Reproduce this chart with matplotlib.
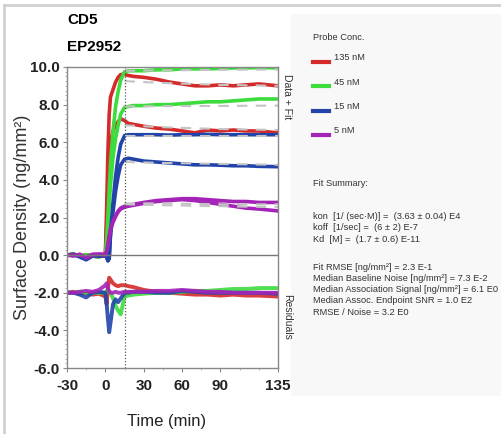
import matplotlib
matplotlib.use("Agg")
import matplotlib.pyplot as plt
from matplotlib.ticker import FixedLocator, MultipleLocator

plt.rcParams["font.family"] = ["Liberation Sans", "DejaVu Sans"]
plt.rcParams["axes.unicode_minus"] = False

# sample times (min)
time = [-30, -25, -20, -15, -10, -5, 0, 1, 2, 3, 4, 6, 8, 10, 12, 15, 18, 22,
        30, 40, 50, 60, 70, 80, 90, 100, 110, 120, 135]
base = [0.0, 0.05, -0.05, 0.0, -0.05, -0.08, 0.0]

red_a = base + [2.5, 5.5, 7.5, 8.4, 8.8, 9.2, 9.45, 9.6, 9.6, 9.55, 9.5,
                9.45, 9.35, 9.2, 9.1, 9.0, 9.0, 9.05, 9.0, 9.05, 9.1, 9.0]
red_b = base + [1.5, 3.5, 5.0, 6.0, 6.6, 6.9, 7.1, 7.25, 7.15, 7.0, 6.95,
                6.85, 6.75, 6.7, 6.6, 6.5, 6.65, 6.6, 6.65, 6.6, 6.6, 6.5]
green_a = base + [0.8, 2.0, 3.5, 4.8, 6.6, 7.9, 8.7, 9.3, 9.75, 9.8, 9.8,
                  9.8, 9.85, 9.85, 9.9, 9.9, 9.9, 9.92, 9.95, 9.95, 9.97, 9.95]
green_b = base + [0.6, 1.6, 2.7, 3.7, 5.2, 6.2, 6.9, 7.5, 7.85, 7.9, 7.95,
                  7.95, 8.0, 8.0, 8.05, 8.1, 8.15, 8.15, 8.2, 8.25, 8.3, 8.3]
blue_a = [0.0, 0.05, -0.1, -0.25, -0.05, -0.05, -0.05, -0.1, -0.3, -0.2, 1.2,
          2.8, 4.2, 5.2, 5.9, 6.35, 6.4, 6.4, 6.4, 6.4, 6.38, 6.4, 6.4, 6.42,
          6.4, 6.4, 6.4, 6.4, 6.4]
blue_b = [0.0, 0.0, -0.05, -0.15, 0.0, -0.05, 0.0, -0.1, -0.3, -0.1, 1.0,
          2.3, 3.4, 4.2, 4.8, 5.1, 5.15, 5.1, 5.0, 4.95, 4.9, 4.85, 4.8, 4.8,
          4.78, 4.75, 4.75, 4.72, 4.7]
purple_a = [0.0, -0.05, 0.05, -0.15, 0.0, 0.05, 0.05, 0.2, 0.6, 1.0, 1.4,
            1.8, 2.1, 2.35, 2.5, 2.6, 2.65, 2.7, 2.8, 2.9, 2.95, 3.0, 3.0,
            2.95, 2.9, 2.85, 2.85, 2.8, 2.8]
purple_b = [0.0, 0.0, 0.0, -0.1, 0.05, 0.05, 0.0, 0.2, 0.55, 0.95, 1.35,
            1.75, 2.05, 2.3, 2.45, 2.55, 2.6, 2.65, 2.75, 2.85, 2.9, 2.95,
            2.9, 2.8, 2.7, 2.6, 2.5, 2.45, 2.35]

# fitted dissociation curves
fit_time = [15, 45, 90, 135]
fit_red_a = [9.25, 9.15, 9.05, 9.0]
fit_red_b = [6.9, 6.8, 6.7, 6.65]
fit_green_a = [9.8, 9.82, 9.85, 9.87]
fit_green_b = [7.9, 7.92, 7.93, 7.95]
fit_blue_a = [6.35, 6.35, 6.35, 6.35]
fit_blue_b = [4.95, 4.9, 4.85, 4.8]
fit_purple_a = [2.75, 2.75, 2.7, 2.7]
fit_purple_b = [2.7, 2.65, 2.6, 2.55]

# residuals (drawn with -2 offset)
res_red = [-2.0, -1.95, -2.05, -2.0, -2.1, -2.05, -2.2, -2.6, -1.8, -1.2,
           -1.3, -1.5, -1.6, -1.65, -1.6, -1.6, -1.65, -1.7, -1.85, -1.95,
           -2.0, -2.05, -2.1, -2.1, -2.15, -2.1, -2.15, -2.15, -2.2]
res_green = [-2.0, -2.0, -1.95, -2.0, -2.0, -2.0, -2.0, -1.9, -1.9, -1.95,
             -2.0, -2.3, -2.7, -2.95, -3.15, -2.2, -2.15, -2.1, -2.05, -2.0,
             -2.0, -1.95, -1.9, -1.9, -1.85, -1.8, -1.8, -1.75, -1.75]
res_blue = [-2.0, -2.0, -2.1, -2.25, -2.0, -1.95, -2.0, -2.6, -3.4, -4.1,
            -3.6, -2.6, -2.35, -2.5, -2.3, -2.0, -2.0, -1.95, -1.95, -2.0,
            -2.0, -1.9, -1.95, -2.0, -2.0, -2.0, -2.0, -2.0, -2.05]
res_purple = [-2.0, -2.0, -1.95, -1.9, -1.95, -1.85, -1.6, -1.5, -1.8, -1.9,
              -2.0, -2.0, -1.95, -2.0, -2.0, -1.95, -1.95, -1.95, -1.95,
              -1.9, -1.9, -1.85, -1.9, -1.95, -1.95, -2.0, -2.0, -2.0, -2.0]

conc_labels = ["135 nM", "45 nM", "15 nM", "5 nM"]
colors = ["#d42a2a", "#3ddc3d", "#2244aa", "#a424b8"]

summary_lines = [
    "kon  [1/ (sec\u00b7M)] =  (3.63 \u00b1 0.04) E4",
    "koff  [1/sec] =  (6 \u00b1 2) E-7",
    "Kd  [M] =  (1.7 \u00b1 0.6) E-11",
]
quality_lines = [
    "Fit RMSE [ng/mm\u00b2] = 2.3 E-1",
    "Median Baseline Noise [ng/mm\u00b2] = 7.3 E-2",
    "Median Association Signal [ng/mm\u00b2] = 6.1 E0",
    "Median Assoc. Endpoint SNR = 1.0 E2",
    "RMSE / Noise = 3.2 E0",
]

W, H = 502, 434
fig = plt.figure(figsize=(W / 100, H / 100), dpi=100)
fig.patch.set_facecolor("white")


def fx(px):
    return px / W


def fy(py):
    return 1 - py / H


# outer frame lines and right panel background
fig.add_artist(plt.Line2D([fx(4), fx(4)], [fy(5), 0], color="#d0d0d0", lw=2))
fig.add_artist(plt.Line2D([fx(4), 1], [fy(5), fy(5)], color="#d0d0d0", lw=2))
fig.add_artist(plt.Rectangle((fx(291), fy(396)), fx(211), fy(14) - fy(396),
                             facecolor="#f8f8f8", edgecolor="none", zorder=-1))

ax = fig.add_axes([fx(67), fy(368), fx(278) - fx(67), fy(67) - fy(368)])
ax.set_xlim(-30, 135)
ax.set_ylim(-6, 10)

curves = [(red_a, red_b), (green_a, green_b), (blue_a, blue_b), (purple_a, purple_b)]
fits = [(fit_red_a, fit_red_b), (fit_green_a, fit_green_b),
        (fit_blue_a, fit_blue_b), (fit_purple_a, fit_purple_b)]
residuals = [res_red, res_green, res_blue, res_purple]

for (ya, yb), res, c in zip(curves, residuals, colors):
    ax.plot(time, ya, color=c, lw=2.6, solid_joinstyle="round")
    ax.plot(time, yb, color=c, lw=2.6, solid_joinstyle="round")
    ax.plot(time, res, color=c, lw=2.8, alpha=0.9)
for (fa, fb) in fits:
    ax.plot(fit_time, fa, color="#c4c4c4", lw=1.5, ls=(0, (5, 4)))
    ax.plot(fit_time, fb, color="#c4c4c4", lw=1.5, ls=(0, (5, 4)))

ax.axhline(0, color="#777777", lw=1)
ax.axvline(15, color="#555555", lw=0.9, ls=(0, (1, 1.5)))

for side in ["top", "right", "left", "bottom"]:
    ax.spines[side].set_color("#888888")
    ax.spines[side].set_linewidth(1)

ax.xaxis.set_major_locator(FixedLocator([-30, 0, 30, 60, 90, 135]))
ax.xaxis.set_minor_locator(FixedLocator([-15, 15, 45, 75, 105, 120]))
ax.yaxis.set_minor_locator(MultipleLocator(0.25))
ax.set_yticks([-6, -4, -2, 0, 2, 4, 6, 8, 10])
ax.set_yticklabels([f"{v:.1f}" for v in [-6, -4, -2, 0, 2, 4, 6, 8, 10]])
ax.tick_params(axis="both", which="major", length=3, width=0.8, color="#888888",
               labelsize=11)
ax.tick_params(axis="x", which="major", pad=5)
ax.tick_params(axis="y", which="major", pad=2)
ax.tick_params(axis="both", which="minor", length=1.5, width=0.6, color="#aaaaaa")
for lab in ax.get_xticklabels() + ax.get_yticklabels():
    lab.set_fontweight("bold")
    lab.set_color("#222222")

ax.set_ylabel("Surface Density (ng/mm\u00b2)", fontsize=13, color="#333333")
ax.yaxis.set_label_coords(-36 / 211, 0.5)
ax.set_xlabel("Time (min)", fontsize=12, color="#222222")
ax.xaxis.set_label_coords(0.47, -46 / 301)

ax.text(1.02, 0.9, "Data + Fit", transform=ax.transAxes, rotation=-90,
        fontsize=7.5, ha="left", va="center", color="#333333")
ax.text(1.02, 0.17, "Residuals", transform=ax.transAxes, rotation=-90,
        fontsize=7.5, ha="left", va="center", color="#333333")

fig.text(fx(67), fy(20), "CD5", fontsize=11, fontweight="bold", va="center")
fig.text(fx(67), fy(47), "EP2952", fontsize=11, fontweight="bold", va="center")

# legend panel
panel_fs = 7.2
panel_texts = []
panel_texts.append(fig.text(fx(313), fy(38), "Probe Conc.", fontsize=panel_fs,
                            va="center", color="#333333"))
for i, (lab, c) in enumerate(zip(conc_labels, colors)):
    yy = fy(62 + 24.3 * i)
    fig.add_artist(plt.Line2D([fx(313), fx(329)], [yy, yy], color=c, lw=3))
    panel_texts.append(fig.text(fx(334), fy(58 + 24.3 * i), lab, fontsize=panel_fs,
                                va="center", color="#333333"))

panel_texts.append(fig.text(fx(313), fy(183), "Fit Summary:", fontsize=panel_fs,
                            va="center", color="#333333"))
for i, line in enumerate(summary_lines):
    panel_texts.append(fig.text(fx(313), fy(216 + 11.5 * i), line, fontsize=panel_fs,
                                va="center", color="#333333"))
for i, line in enumerate(quality_lines):
    panel_texts.append(fig.text(fx(313), fy(267 + 11.3 * i), line, fontsize=panel_fs,
                                va="center", color="#333333"))

# shrink panel text so the longest line ends near the right edge
fig.canvas.draw()
renderer = fig.canvas.get_renderer()
widest = max(t.get_window_extent(renderer).width for t in panel_texts)
if widest > 186:
    scale = 186 / widest
    for t in panel_texts:
        t.set_fontsize(panel_fs * scale)

fig.savefig("out.png", dpi=100)
